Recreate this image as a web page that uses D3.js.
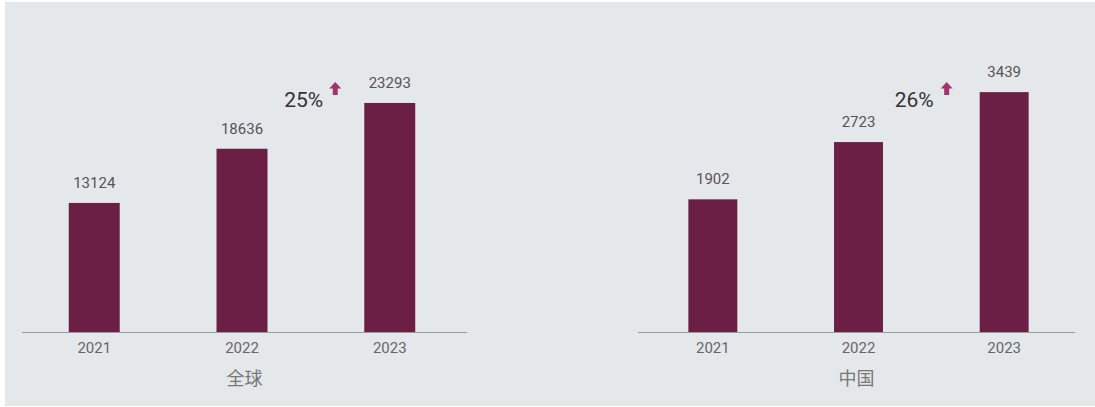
<!DOCTYPE html>
<html>
<head>
<meta charset="utf-8">
<script src="https://cdn.jsdelivr.net/npm/d3@7.9.0/dist/d3.min.js"></script>
<style>
  html, body { margin: 0; padding: 0; background: #ffffff; }
  svg { display: block; }
  text { font-family: Roboto, "Noto Sans CJK SC", sans-serif; }
</style>
</head>
<body>
<svg id="vis"></svg>
<script>
const width = 1095;
const height = 407;

// --- data ---
const years = ["2021", "2022", "2023"];
const globalValues = [13124, 18636, 23293];
const chinaValues = [1902, 2723, 3439];
const panelNames = ["全球", "中国"];
const growthLabels = ["25%", "26%"];

const barColor = "#6b1f45";
const arrowColor = "#a3336a";

const svg = d3.select("#vis")
    .attr("width", width)
    .attr("height", height);

// grey panel behind both charts
svg.append("rect")
    .attr("x", 5)
    .attr("y", 2)
    .attr("width", width - 5)
    .attr("height", height - 3)
    .attr("fill", "#e5e8eb");

const baseY = 332;

function drawPanel(values, opts) {
    const g = svg.append("g");

    const x = d3.scaleBand()
        .domain(years)
        .range(opts.xRange)
        .paddingInner(opts.padInner)
        .paddingOuter(opts.padOuter);

    const y = d3.scaleLinear()
        .domain([0, opts.yMax])
        .range([baseY, opts.yTop]);

    const rows = years.map((yr, i) => ({ year: yr, value: values[i] }));

    g.selectAll("rect.bar")
        .data(rows)
        .join("rect")
        .attr("class", "bar")
        .attr("x", d => x(d.year))
        .attr("y", d => y(d.value))
        .attr("width", x.bandwidth())
        .attr("height", d => y(0) - y(d.value))
        .attr("fill", barColor);

    // value labels above bars
    g.selectAll("text.val")
        .data(rows)
        .join("text")
        .attr("class", "val")
        .attr("x", d => x(d.year) + x.bandwidth() / 2)
        .attr("y", d => y(d.value) - 15)
        .attr("text-anchor", "middle")
        .style("font-size", "15px")
        .style("fill", "#555")
        .text(d => d.value);

    // x axis (ticks centred on the bars)
    const axis = g.append("g")
        .attr("transform", `translate(0, ${baseY})`)
        .call(d3.axisBottom(x).tickSize(0).tickSizeOuter(0).tickPadding(10));
    axis.select(".domain").attr("stroke", "#9a9a9a")
        .attr("d", `M${opts.axisRange[0]},0.5H${opts.axisRange[1]}`);
    axis.selectAll("text")
        .style("font-family", "Roboto, sans-serif")
        .style("font-size", "15px")
        .style("fill", "#666");

    // panel name under axis
    g.append("text")
        .attr("x", (opts.axisRange[0] + opts.axisRange[1]) / 2)
        .attr("y", 385)
        .attr("text-anchor", "middle")
        .style("font-family", "'Noto Sans CJK SC', sans-serif")
        .style("font-size", "18px")
        .style("fill", "#777")
        .text(opts.name);

    // growth annotation next to last bar
    const lastX = x(years[years.length - 1]);
    g.append("text")
        .attr("x", lastX - opts.growthGap)
        .attr("y", 107)
        .attr("text-anchor", "end")
        .style("font-size", "21px")
        .style("fill", "#333")
        .text(opts.growth);

    const ax = lastX - opts.arrowGap;
    const ay = 82;
    g.append("path")
        .attr("d", `M${ax},${ay} L${ax + 6},${ay + 6.5} L${ax + 2.5},${ay + 6.5} L${ax + 2.5},${ay + 13}
                    L${ax - 2.5},${ay + 13} L${ax - 2.5},${ay + 6.5} L${ax - 6},${ay + 6.5} Z`)
        .attr("fill", arrowColor);
}

drawPanel(globalValues, {
    xRange: [20, 464],
    axisRange: [22, 467],
    padInner: 0.655,
    padOuter: 0.33,
    yMax: 30000,
    yTop: 37,
    name: panelNames[0],
    growth: growthLabels[0],
    growthGap: 41,
    arrowGap: 29
});

drawPanel(chinaValues, {
    xRange: [640, 1077],
    axisRange: [638, 1075],
    padInner: 0.664,
    padOuter: 0.332,
    yMax: 4000,
    yTop: 53,
    name: panelNames[1],
    growth: growthLabels[1],
    growthGap: 46,
    arrowGap: 33
});
</script>
</body>
</html>
